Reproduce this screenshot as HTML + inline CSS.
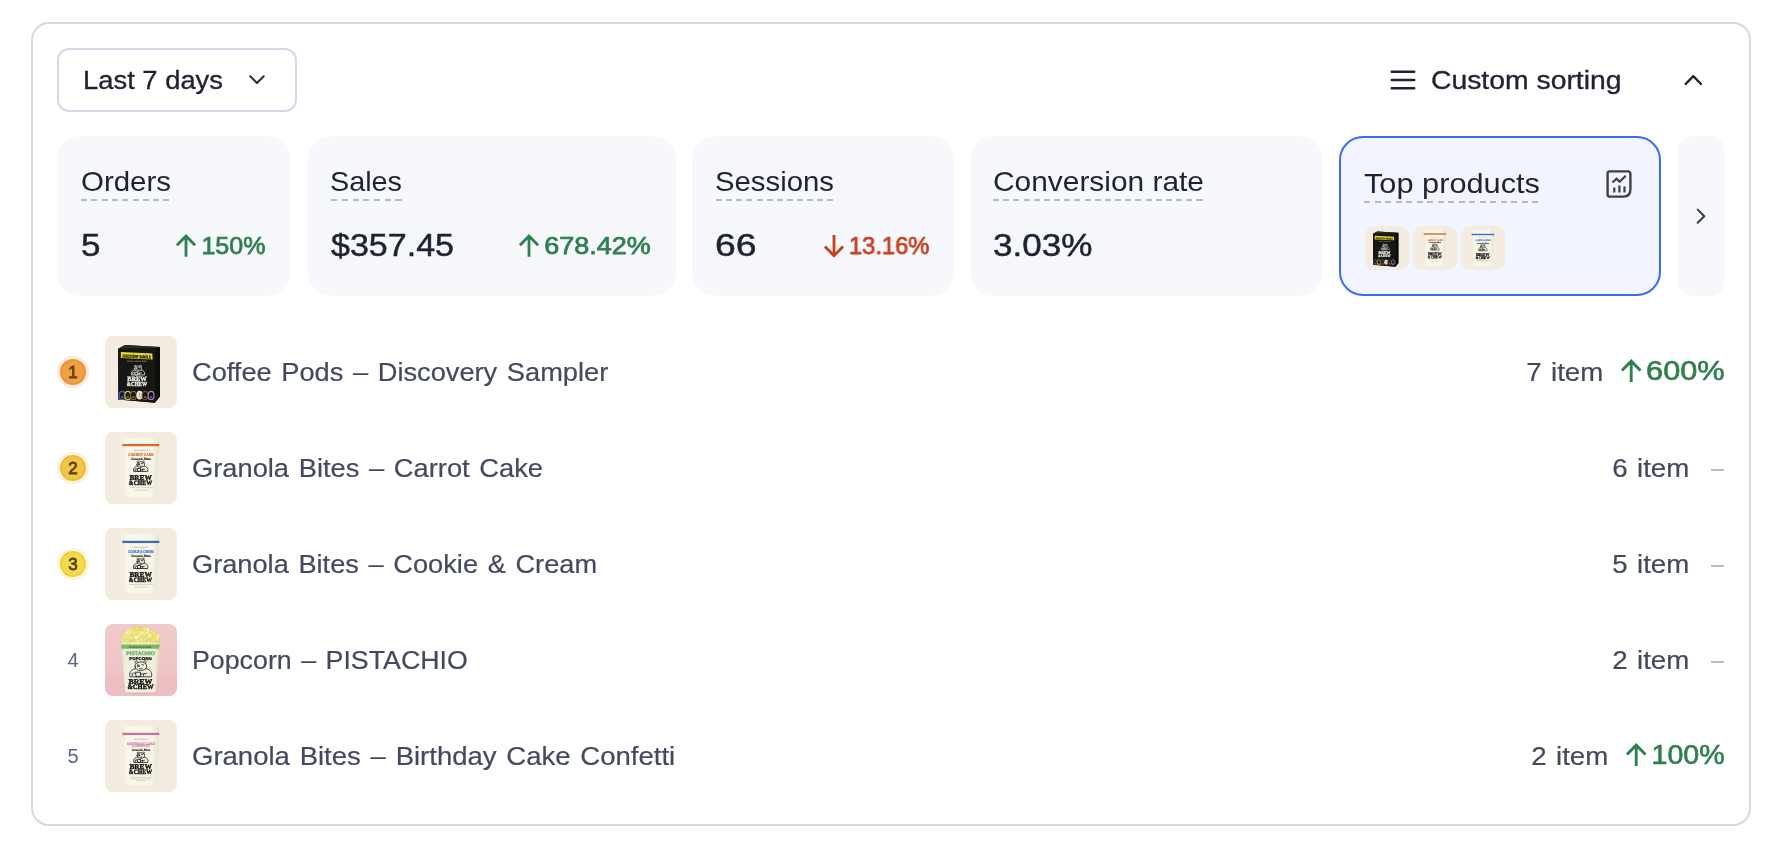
<!DOCTYPE html>
<html lang="en"><head><meta charset="utf-8"><title>Dashboard</title>
<style>*{box-sizing:border-box;margin:0;padding:0}
html,body{width:1782px;height:850px;background:#fff;overflow:hidden}
body{position:relative;font-family:"Liberation Sans",sans-serif;color:#1f2330}
.abs{position:absolute}
.t{position:absolute;line-height:1;white-space:nowrap}
.wrap{left:31px;top:22px;width:1720px;height:804px;border:2px solid #d6d8e7;border-radius:18px;background:#fff}
.btn{left:57px;top:48px;width:240px;height:64px;border:2px solid #d6d8e7;border-radius:12px;background:#fff}
.card{top:136px;height:160px;border-radius:24px;background:#f7f8fc}
.card.sel{background:#f2f5ff;border:2px solid #3a6cf0}
.dash{height:2px}
.dk{color:#1f2330}
.gr{color:#2f7f50}
.rd{color:#c4411f}
.nm{color:#434a5e;-webkit-text-stroke:0.2px currentColor}
.mut{color:#5b6687}
.b{font-weight:700}
.thumb{width:72px;height:72px;border-radius:8px;overflow:hidden;left:105px}
.sthumb{width:44px;height:44px;border-radius:9px;overflow:hidden;top:226px}
svg{display:block}
svg text{text-rendering:geometricPrecision}
.thumb,.sthumb,.t{will-change:transform}
.md4{-webkit-text-stroke:0.35px currentColor}
.md5{-webkit-text-stroke:0.5px currentColor}
.sb{-webkit-text-stroke:0.75px currentColor}
.sb2{-webkit-text-stroke:0.65px currentColor}
.bn{-webkit-text-stroke:0.8px currentColor}
</style></head>
<body>
<svg width="0" height="0" style="position:absolute"><defs><linearGradient id="pg" x1="0" x2="1" y1="0" y2="0"><stop offset="0" stop-color="#efecdc"/><stop offset="0.12" stop-color="#f9f7ea"/><stop offset="0.8" stop-color="#f7f5e7"/><stop offset="1" stop-color="#e6e2cf"/></linearGradient><linearGradient id="pk" x1="0" x2="0" y1="0" y2="1"><stop offset="0" stop-color="#f1cacb"/><stop offset="0.6" stop-color="#efc6c8"/><stop offset="0.86" stop-color="#ebbdc1"/><stop offset="1" stop-color="#ecc0c4"/></linearGradient><linearGradient id="pb" x1="0" x2="1" y1="0" y2="0"><stop offset="0" stop-color="#e3e2cc"/><stop offset="0.15" stop-color="#f0f0de"/><stop offset="0.85" stop-color="#efefdc"/><stop offset="1" stop-color="#dcdbc4"/></linearGradient></defs></svg>
<div class="abs wrap"></div>
<div class="abs btn"></div>
<div class="t dk md4" style="top:66.99px;font-size:26px;left:83.30px;transform-origin:0 50%;transform:scaleX(1.0528);">Last 7 days</div>
<svg class="abs" style="left:247px;top:72px" width="20" height="16" viewBox="0 0 20 16"><path d="M3.3 4.3 L10 11 L16.7 4.3" fill="none" stroke="#2b2f3d" stroke-width="2" stroke-linecap="round" stroke-linejoin="round"/></svg>
<svg class="abs" style="left:1390px;top:68px" width="26" height="24" viewBox="0 0 26 24"><path d="M1.8 3.8H24.2M1.8 12H24.2M1.8 20.2H24.2" fill="none" stroke="#1f2330" stroke-width="2.5" stroke-linecap="round"/></svg>
<div class="t dk md4" style="top:66.99px;font-size:26px;left:1430.50px;transform-origin:0 50%;transform:scaleX(1.0895);">Custom sorting</div>
<svg class="abs" style="left:1682px;top:71.3px" width="22" height="16" viewBox="0 0 22 16"><path d="M3.6 13 L11.3 5.2 L19 13" fill="none" stroke="#1f2330" stroke-width="2.4" stroke-linecap="round" stroke-linejoin="round"/></svg>
<div class="abs card" style="left:57px;width:234px"></div>
<div class="abs card" style="left:307px;width:369px"></div>
<div class="abs card" style="left:692px;width:262px"></div>
<div class="abs card" style="left:970px;width:353px"></div>
<div class="abs card sel" style="left:1339px;width:322px"></div>
<div class="abs card" style="left:1677px;width:48px;border-radius:16px"></div>
<div class="t dk" style="top:168.30px;font-size:28px;left:80.50px;transform-origin:0 50%;transform:scaleX(1.0517);">Orders</div>
<div class="abs dash" style="left:81.4px;top:199px;width:88.8px;background:repeating-linear-gradient(90deg,#b3b8cc 0 6px,transparent 6px 10.312px)"></div>
<div class="t dk" style="top:168.30px;font-size:28px;left:329.90px;transform-origin:0 50%;transform:scaleX(1.0279);">Sales</div>
<div class="abs dash" style="left:330.8px;top:199px;width:70.8px;background:repeating-linear-gradient(90deg,#b3b8cc 0 6px,transparent 6px 10.750px)"></div>
<div class="t dk" style="top:168.30px;font-size:28px;left:714.80px;transform-origin:0 50%;transform:scaleX(1.0473);">Sessions</div>
<div class="abs dash" style="left:715.7px;top:199px;width:117.8px;background:repeating-linear-gradient(90deg,#b3b8cc 0 6px,transparent 6px 10.136px)"></div>
<div class="t dk" style="top:168.30px;font-size:28px;left:992.50px;transform-origin:0 50%;transform:scaleX(1.0675);">Conversion rate</div>
<div class="abs dash" style="left:993.4px;top:199px;width:209.8px;background:repeating-linear-gradient(90deg,#b3b8cc 0 6px,transparent 6px 10.175px)"></div>
<div class="t dk" style="top:170.30px;font-size:28px;left:1363.50px;transform-origin:0 50%;transform:scaleX(1.0977);">Top products</div>
<div class="abs dash" style="left:1364.4px;top:201px;width:174.8px;background:repeating-linear-gradient(90deg,#b3b8cc 0 6px,transparent 6px 10.531px)"></div>
<div class="t dk md5" style="top:228.91px;font-size:32px;left:80.50px;transform-origin:0 50%;transform:scaleX(1.0957);">5</div>
<div class="t dk md5" style="top:228.91px;font-size:32px;left:330.90px;transform-origin:0 50%;transform:scaleX(1.0634);">$357.45</div>
<div class="t dk md5" style="top:228.91px;font-size:32px;left:714.80px;transform-origin:0 50%;transform:scaleX(1.1659);">66</div>
<div class="t dk md5" style="top:228.91px;font-size:32px;left:992.50px;transform-origin:0 50%;transform:scaleX(1.0966);">3.03%</div>
<div class="t gr sb" style="top:233.68px;font-size:24px;right:1516.80px;transform-origin:100% 50%;transform:scaleX(1.0425);">150%</div>
<svg class="abs" style="left:175.00px;top:234.20px" width="22.00" height="23.00" viewBox="0 0 22 23"><path d="M11 22.7V2.4M1.9 11.2L11 2.1L20.1 11.2" fill="none" stroke="#2f7f50" stroke-width="2.8" stroke-linejoin="miter"/></svg>
<div class="t gr sb" style="top:233.68px;font-size:24px;right:1131.00px;transform-origin:100% 50%;transform:scaleX(1.1240);">678.42%</div>
<svg class="abs" style="left:517.90px;top:234.20px" width="22.00" height="23.00" viewBox="0 0 22 23"><path d="M11 22.7V2.4M1.9 11.2L11 2.1L20.1 11.2" fill="none" stroke="#2f7f50" stroke-width="2.8" stroke-linejoin="miter"/></svg>
<div class="t rd sb" style="top:233.68px;font-size:24px;right:852.70px;transform-origin:100% 50%;transform:scaleX(0.9889);">13.16%</div>
<svg class="abs" style="left:823.20px;top:234.50px" width="22.00" height="23.00" viewBox="0 0 22 23"><path transform="rotate(180 11 11.4)" d="M11 22.7V2.4M1.9 11.2L11 2.1L20.1 11.2" fill="none" stroke="#c4411f" stroke-width="2.8" stroke-linejoin="miter"/></svg>
<svg class="abs" style="left:1693px;top:206px" width="16" height="20" viewBox="0 0 16 20"><path d="M4.7 3.6 L11.3 10.2 L4.7 16.8" fill="none" stroke="#353a48" stroke-width="2" stroke-linecap="round" stroke-linejoin="round"/></svg>
<svg class="abs" style="left:1605px;top:169px" width="28" height="30" viewBox="0 0 28 30"><path d="M4 2.4H22.8Q25.4 2.4 25.4 5V20.6Q25.4 27.6 18.4 27.6H4.6Q2.6 27.6 2.6 25.6V4.4Q2.6 2.4 4.6 2.4Z" fill="none" stroke="#3b4050" stroke-width="2.4"/><path d="M7.4 13.5L11.6 9.7L14.6 12.7L20.8 6.7" fill="none" stroke="#3b4050" stroke-width="2.2"/><path d="M9.3 18.6V23.4M14.4 16.6V23.4M19.5 17.6V23.4" fill="none" stroke="#3b4050" stroke-width="2.2"/></svg>
<div class="abs" style="left:57px;top:356px;width:32px;height:32px;border-radius:50%;background:#fbeadb"></div>
<div class="abs" style="left:60px;top:359px;width:26px;height:26px;border-radius:50%;background:#f0a143;border:2px solid #e8973a"></div>
<div class="t bn" style="top:363.71px;font-size:17px;left:60.00px;transform-origin:0 50%;width:26px;text-align:center;color:#6a3f12;">1</div>
<div class="abs thumb" style="top:336px"><svg width="72" height="72" viewBox="0 0 72 72"><rect width="72" height="72" fill="#f4ece0"/><path d="M13.1 12.7 L19.9 9.1 L55 11 L55 60.6 L50 66.7 L13.4 63.5 Z" fill="#0d0d0c"/><path d="M13.1 12.7 L50.7 11.9 L50 66.7 L13.4 63.5 Z" fill="#161615"/><path d="M13.1 12.7 L19.9 9.1 L55 11 L50.7 11.9 Z" fill="#2b2b28"/><path d="M15.9 15.9 L47.3 17.4 L47.7 23.4 L15.9 21.9 Z" fill="#e9d83d"/><g transform="rotate(2.7 16 16)"><text x="17.8" y="21.3" font-size="4.3" font-family="Liberation Sans,sans-serif" font-weight="700" fill="#17170f" textLength="28.2" lengthAdjust="spacingAndGlyphs" stroke="#17170f" stroke-width="0.25">DISCOVERY SAMPLE</text></g><text x="22" y="26.4" font-size="2.2" font-family="Liberation Sans,sans-serif" font-weight="700" fill="#9b9b93" textLength="19.6" lengthAdjust="spacingAndGlyphs">NATURAL &amp; ORGANIC BLEND</text><g transform="translate(32.8 34.2) scale(0.58)" fill="none" stroke="#e9e7df" stroke-width="1.38" stroke-linecap="round" stroke-linejoin="round"><path d="M-5.6 -2.6 C-6.6 -8.6 6 -9.2 6.6 -3.2 C7 0.2 3.2 1.6 0.2 1.6 C-3 1.6 -5.2 0.4 -5.6 -2.6 Z"/><path d="M-5.2 -6 C-6.6 -7.8 -4.2 -9.4 -3 -7.8M3.6 -8 C4.6 -9.8 7.2 -8.2 5.8 -6.2"/><path d="M-2.6 -4.4 L-0.6 -3.4 L-2.4 -2.2 Z M1.6 -4.6 L3.4 -4.2 M-1 -0.6 C0 0.2 1.4 0.2 2.2 -0.6"/><path d="M-5 -0.4 C-10 0.4 -12.2 4 -11 8.2 L11.6 8.2 C12.8 4 10.4 0.2 5.6 -0.4"/><path d="M-4.6 3.4 L0.2 3.4 L-0.2 8.2 L-4.2 8.2 Z M0.2 4.4 C1.8 4.4 1.8 6.6 0 6.6"/><path d="M-8.6 4.6 L-8.6 7 M-7.2 4.2 L-5.2 4.6 M2.4 5.2 L6.4 4.6 M3.4 5.4 L3.4 7.6"/></g><text x="22.2" y="45" font-size="6.6" font-family="Liberation Serif,serif" font-weight="700" fill="#efede2" textLength="19.6" lengthAdjust="spacingAndGlyphs" stroke="#efede2" stroke-width="0.35">BREW</text><text x="21.8" y="50.2" font-size="6.2" font-family="Liberation Serif,serif" font-weight="700" fill="#efede2" textLength="20.2" lengthAdjust="spacingAndGlyphs" stroke="#efede2" stroke-width="0.35">&amp;CHEW</text><ellipse cx="17.2" cy="59.4" rx="3" ry="4.1" fill="#171716" stroke="#4d63c6" stroke-width="1.15"/><path d="M16.099999999999998 61h2.2" stroke="#a5a59e" stroke-width="1"/><ellipse cx="22.8" cy="59.4" rx="3" ry="4.1" fill="#171716" stroke="#d8ca3c" stroke-width="1.15"/><path d="M21.7 61h2.2" stroke="#a5a59e" stroke-width="1"/><ellipse cx="28.4" cy="59.4" rx="3" ry="4.1" fill="#171716" stroke="#8d5e3c" stroke-width="1.15"/><path d="M27.299999999999997 61h2.2" stroke="#a5a59e" stroke-width="1"/><ellipse cx="34.6" cy="59.2" rx="3.1" ry="4.4" fill="#efe8d2"/><path d="M33.6 57.8h2M34.6 57.8v2.4M33.5 61.2h2.2" stroke="#8a836c" stroke-width="0.7"/><ellipse cx="40.2" cy="59.4" rx="3" ry="4.1" fill="#171716" stroke="#6e4c32" stroke-width="1.15"/><path d="M39.1 61h2.2" stroke="#a5a59e" stroke-width="1"/><ellipse cx="46.1" cy="59.4" rx="3" ry="4.1" fill="#171716" stroke="#b47fc6" stroke-width="1.15"/><path d="M45.0 61h2.2" stroke="#a5a59e" stroke-width="1"/></svg></div>
<div class="t nm" style="top:358.99px;font-size:26px;left:192.20px;transform-origin:0 50%;transform:scaleX(1.0465);word-spacing:2px;">Coffee Pods – Discovery Sampler</div>
<div class="t gr sb2" style="top:356.90px;font-size:28px;right:57.00px;transform-origin:100% 50%;transform:scaleX(1.0960);">600%</div>
<svg class="abs" style="left:1619.68px;top:358.70px" width="22.44" height="23.46" viewBox="0 0 22 23"><path d="M11 22.7V2.4M1.9 11.2L11 2.1L20.1 11.2" fill="none" stroke="#2f7f50" stroke-width="2.8" stroke-linejoin="miter"/></svg>
<div class="t nm" style="top:358.99px;font-size:26px;right:178.70px;transform-origin:100% 50%;transform:scaleX(1.0648);word-spacing:1.5px;">7 item</div>
<div class="abs" style="left:57px;top:452px;width:32px;height:32px;border-radius:50%;background:#fcf2d9"></div>
<div class="abs" style="left:60px;top:455px;width:26px;height:26px;border-radius:50%;background:#f3c546;border:2px solid #ebbb3d"></div>
<div class="t bn" style="top:459.71px;font-size:17px;left:60.00px;transform-origin:0 50%;width:26px;text-align:center;color:#5a4315;">2</div>
<div class="abs thumb" style="top:432px"><svg width="72" height="72" viewBox="0 0 72 72"><rect width="72" height="72" fill="#f4ece0"/><path d="M18 6.4 Q36 5.2 53.8 6.4 L54.2 14 Q53.2 40 51.4 62.8 Q51.2 65.4 48.6 65.4 L24 65.4 Q21.4 65.4 21.2 62.8 Q19 40 17.5 14 Z" fill="url(#pg)"/><rect x="17.4" y="12.00" width="36.9" height="2.2" fill="#d8601f"/><path d="M19 13.10h33.6" stroke="#fff" stroke-opacity="0.3" stroke-width="0.5" stroke-dasharray="1.6 0.8"/><text x="29" y="19.0" font-size="1.9" font-family="Liberation Sans,sans-serif" font-weight="700" fill="#a3a093" textLength="14.0" lengthAdjust="spacingAndGlyphs">SMALL BATCH CO.</text><text x="23.3" y="24.2" font-size="4.4" font-family="Liberation Serif,serif" font-weight="700" fill="#dd6a2a" textLength="25.3" lengthAdjust="spacingAndGlyphs" stroke="#dd6a2a" stroke-width="0.22">CARROT CAKE</text><text x="26.3" y="27.8" font-size="3.3" font-family="Liberation Serif,serif" font-weight="700" fill="#22211d" textLength="19.4" lengthAdjust="spacingAndGlyphs" stroke="#22211d" stroke-width="0.15">Granola Bites</text><g transform="translate(35.5 34.3) scale(0.62)" fill="none" stroke="#1d1c19" stroke-width="1.37" stroke-linecap="round" stroke-linejoin="round"><path d="M-5.6 -2.6 C-6.6 -8.6 6 -9.2 6.6 -3.2 C7 0.2 3.2 1.6 0.2 1.6 C-3 1.6 -5.2 0.4 -5.6 -2.6 Z"/><path d="M-5.2 -6 C-6.6 -7.8 -4.2 -9.4 -3 -7.8M3.6 -8 C4.6 -9.8 7.2 -8.2 5.8 -6.2"/><path d="M-2.6 -4.4 L-0.6 -3.4 L-2.4 -2.2 Z M1.6 -4.6 L3.4 -4.2 M-1 -0.6 C0 0.2 1.4 0.2 2.2 -0.6"/><path d="M-5 -0.4 C-10 0.4 -12.2 4 -11 8.2 L11.6 8.2 C12.8 4 10.4 0.2 5.6 -0.4"/><path d="M-4.6 3.4 L0.2 3.4 L-0.2 8.2 L-4.2 8.2 Z M0.2 4.4 C1.8 4.4 1.8 6.6 0 6.6"/><path d="M-8.6 4.6 L-8.6 7 M-7.2 4.2 L-5.2 4.6 M2.4 5.2 L6.4 4.6 M3.4 5.4 L3.4 7.6"/></g><text x="24.4" y="47.7" font-size="7.2" font-family="Liberation Serif,serif" font-weight="700" fill="#161513" textLength="22.4" lengthAdjust="spacingAndGlyphs" stroke="#161513" stroke-width="0.4">BREW</text><text x="23.8" y="52.6" font-size="6.4" font-family="Liberation Serif,serif" font-weight="700" fill="#161513" textLength="23.2" lengthAdjust="spacingAndGlyphs" stroke="#161513" stroke-width="0.4">&amp;CHEW</text><path d="M24 55.6h24M29 58.2h14" stroke="#8d8a7e" stroke-opacity="0.7" stroke-width="0.45"/></svg></div>
<div class="t nm" style="top:454.99px;font-size:26px;left:192.20px;transform-origin:0 50%;transform:scaleX(1.0490);word-spacing:2px;">Granola Bites – Carrot Cake</div>
<div class="abs" style="left:1710.5px;top:469px;width:13.5px;height:2px;background:#b7bcd0"></div>
<div class="t nm" style="top:454.99px;font-size:26px;right:92.50px;transform-origin:100% 50%;transform:scaleX(1.0648);word-spacing:1.5px;">6 item</div>
<div class="abs" style="left:57px;top:548px;width:32px;height:32px;border-radius:50%;background:#fcf6d8"></div>
<div class="abs" style="left:60px;top:551px;width:26px;height:26px;border-radius:50%;background:#f5db4b;border:2px solid #edd040"></div>
<div class="t bn" style="top:555.71px;font-size:17px;left:60.00px;transform-origin:0 50%;width:26px;text-align:center;color:#4f4518;">3</div>
<div class="abs thumb" style="top:528px"><svg width="72" height="72" viewBox="0 0 72 72"><rect width="72" height="72" fill="#f4ece0"/><path d="M18 6.4 Q36 5.2 53.8 6.4 L54.2 14 Q53.2 40 51.4 62.8 Q51.2 65.4 48.6 65.4 L24 65.4 Q21.4 65.4 21.2 62.8 Q19 40 17.5 14 Z" fill="url(#pg)"/><rect x="17.4" y="12.81" width="36.9" height="2.2" fill="#2f62c6"/><path d="M19 13.91h33.6" stroke="#fff" stroke-opacity="0.3" stroke-width="0.5" stroke-dasharray="1.6 0.8"/><text x="29" y="19.9" font-size="1.9" font-family="Liberation Sans,sans-serif" font-weight="700" fill="#a3a093" textLength="14.0" lengthAdjust="spacingAndGlyphs">SMALL BATCH CO.</text><text x="23.3" y="25.099999999999998" font-size="4.4" font-family="Liberation Serif,serif" font-weight="700" fill="#3f73d6" textLength="25.3" lengthAdjust="spacingAndGlyphs" stroke="#3f73d6" stroke-width="0.22">COOKIE &amp; CREAM</text><text x="26.3" y="28.7" font-size="3.3" font-family="Liberation Serif,serif" font-weight="700" fill="#22211d" textLength="19.4" lengthAdjust="spacingAndGlyphs" stroke="#22211d" stroke-width="0.15">Granola Bites</text><g transform="translate(35.5 35.379999999999995) scale(0.62)" fill="none" stroke="#1d1c19" stroke-width="1.37" stroke-linecap="round" stroke-linejoin="round"><path d="M-5.6 -2.6 C-6.6 -8.6 6 -9.2 6.6 -3.2 C7 0.2 3.2 1.6 0.2 1.6 C-3 1.6 -5.2 0.4 -5.6 -2.6 Z"/><path d="M-5.2 -6 C-6.6 -7.8 -4.2 -9.4 -3 -7.8M3.6 -8 C4.6 -9.8 7.2 -8.2 5.8 -6.2"/><path d="M-2.6 -4.4 L-0.6 -3.4 L-2.4 -2.2 Z M1.6 -4.6 L3.4 -4.2 M-1 -0.6 C0 0.2 1.4 0.2 2.2 -0.6"/><path d="M-5 -0.4 C-10 0.4 -12.2 4 -11 8.2 L11.6 8.2 C12.8 4 10.4 0.2 5.6 -0.4"/><path d="M-4.6 3.4 L0.2 3.4 L-0.2 8.2 L-4.2 8.2 Z M0.2 4.4 C1.8 4.4 1.8 6.6 0 6.6"/><path d="M-8.6 4.6 L-8.6 7 M-7.2 4.2 L-5.2 4.6 M2.4 5.2 L6.4 4.6 M3.4 5.4 L3.4 7.6"/></g><text x="24.4" y="48.690000000000005" font-size="7.2" font-family="Liberation Serif,serif" font-weight="700" fill="#161513" textLength="22.4" lengthAdjust="spacingAndGlyphs" stroke="#161513" stroke-width="0.4">BREW</text><text x="23.8" y="53.68" font-size="6.4" font-family="Liberation Serif,serif" font-weight="700" fill="#161513" textLength="23.2" lengthAdjust="spacingAndGlyphs" stroke="#161513" stroke-width="0.4">&amp;CHEW</text><path d="M24 56.5h24M29 59.1h14" stroke="#8d8a7e" stroke-opacity="0.7" stroke-width="0.45"/></svg></div>
<div class="t nm" style="top:550.99px;font-size:26px;left:192.20px;transform-origin:0 50%;transform:scaleX(1.0463);word-spacing:2px;">Granola Bites – Cookie &amp; Cream</div>
<div class="abs" style="left:1710.5px;top:565px;width:13.5px;height:2px;background:#b7bcd0"></div>
<div class="t nm" style="top:550.99px;font-size:26px;right:92.50px;transform-origin:100% 50%;transform:scaleX(1.0648);word-spacing:1.5px;">5 item</div>
<div class="t mut" style="top:650.07px;font-size:20px;left:60.00px;transform-origin:0 50%;width:26px;text-align:center;">4</div>
<div class="abs thumb" style="top:624px"><svg width="72" height="72" viewBox="0 0 72 72"><rect width="72" height="72" fill="url(#pk)"/><ellipse cx="36" cy="68.8" rx="17" ry="1.6" fill="#d9a4aa" opacity="0.45"/><path d="M19 19.5 C19 11 28 5.6 36 5.8 C44 5.6 52.4 11 52.4 19.5 Z" fill="#e6da6a"/><circle cx="51.9" cy="19.5" r="2.8" fill="#efe476" stroke="#cdbd4c" stroke-opacity="0.6" stroke-width="0.4"/><circle cx="22.3" cy="19.4" r="2.3" fill="#f6f09a" stroke="#cdbd4c" stroke-opacity="0.6" stroke-width="0.4"/><circle cx="51.4" cy="19.2" r="2.0" fill="#efe476" stroke="#cdbd4c" stroke-opacity="0.6" stroke-width="0.4"/><circle cx="20.3" cy="19.2" r="2.1" fill="#f6f09a" stroke="#cdbd4c" stroke-opacity="0.6" stroke-width="0.4"/><circle cx="25.5" cy="18.9" r="2.7" fill="#f9f5b4" stroke="#cdbd4c" stroke-opacity="0.6" stroke-width="0.4"/><circle cx="43.4" cy="18.8" r="2.1" fill="#f6f09a" stroke="#cdbd4c" stroke-opacity="0.6" stroke-width="0.4"/><circle cx="50.6" cy="18.2" r="2.1" fill="#f4ed8c" stroke="#cdbd4c" stroke-opacity="0.6" stroke-width="0.4"/><circle cx="29.0" cy="18.1" r="2.3" fill="#f6f09a" stroke="#cdbd4c" stroke-opacity="0.6" stroke-width="0.4"/><circle cx="51.0" cy="17.9" r="2.8" fill="#efe476" stroke="#cdbd4c" stroke-opacity="0.6" stroke-width="0.4"/><circle cx="49.0" cy="17.8" r="2.7" fill="#f1e87e" stroke="#cdbd4c" stroke-opacity="0.6" stroke-width="0.4"/><circle cx="38.0" cy="17.7" r="2.7" fill="#f9f5b4" stroke="#cdbd4c" stroke-opacity="0.6" stroke-width="0.4"/><circle cx="22.0" cy="17.7" r="2.3" fill="#efe476" stroke="#cdbd4c" stroke-opacity="0.6" stroke-width="0.4"/><circle cx="37.5" cy="17.5" r="2.4" fill="#f6f09a" stroke="#cdbd4c" stroke-opacity="0.6" stroke-width="0.4"/><circle cx="50.8" cy="17.4" r="2.8" fill="#ebe06c" stroke="#cdbd4c" stroke-opacity="0.6" stroke-width="0.4"/><circle cx="33.5" cy="17.4" r="2.8" fill="#f6f09a" stroke="#cdbd4c" stroke-opacity="0.6" stroke-width="0.4"/><circle cx="27.5" cy="17.4" r="2.8" fill="#f4ed8c" stroke="#cdbd4c" stroke-opacity="0.6" stroke-width="0.4"/><circle cx="39.8" cy="16.8" r="2.0" fill="#efe476" stroke="#cdbd4c" stroke-opacity="0.6" stroke-width="0.4"/><circle cx="25.3" cy="16.5" r="2.3" fill="#f4ed8c" stroke="#cdbd4c" stroke-opacity="0.6" stroke-width="0.4"/><circle cx="24.8" cy="16.4" r="2.0" fill="#f6f09a" stroke="#cdbd4c" stroke-opacity="0.6" stroke-width="0.4"/><circle cx="46.7" cy="16.4" r="2.1" fill="#efe476" stroke="#cdbd4c" stroke-opacity="0.6" stroke-width="0.4"/><circle cx="21.4" cy="16.1" r="2.1" fill="#f9f5b4" stroke="#cdbd4c" stroke-opacity="0.6" stroke-width="0.4"/><circle cx="26.9" cy="16.0" r="2.8" fill="#efe476" stroke="#cdbd4c" stroke-opacity="0.6" stroke-width="0.4"/><circle cx="23.3" cy="15.8" r="2.3" fill="#efe476" stroke="#cdbd4c" stroke-opacity="0.6" stroke-width="0.4"/><circle cx="47.2" cy="15.7" r="2.6" fill="#ebe06c" stroke="#cdbd4c" stroke-opacity="0.6" stroke-width="0.4"/><circle cx="18.7" cy="15.6" r="2.4" fill="#fbf8c6" stroke="#cdbd4c" stroke-opacity="0.6" stroke-width="0.4"/><circle cx="48.1" cy="15.5" r="2.5" fill="#f4ed8c" stroke="#cdbd4c" stroke-opacity="0.6" stroke-width="0.4"/><circle cx="22.0" cy="15.5" r="2.7" fill="#f6f09a" stroke="#cdbd4c" stroke-opacity="0.6" stroke-width="0.4"/><circle cx="50.7" cy="15.1" r="2.3" fill="#f6f09a" stroke="#cdbd4c" stroke-opacity="0.6" stroke-width="0.4"/><circle cx="52.5" cy="15.0" r="2.4" fill="#f1e87e" stroke="#cdbd4c" stroke-opacity="0.6" stroke-width="0.4"/><circle cx="35.5" cy="15.0" r="2.9" fill="#f6f09a" stroke="#cdbd4c" stroke-opacity="0.6" stroke-width="0.4"/><circle cx="20.0" cy="15.0" r="2.4" fill="#f4ed8c" stroke="#cdbd4c" stroke-opacity="0.6" stroke-width="0.4"/><circle cx="27.0" cy="14.8" r="2.6" fill="#ebe06c" stroke="#cdbd4c" stroke-opacity="0.6" stroke-width="0.4"/><circle cx="36.1" cy="14.7" r="2.2" fill="#f6f09a" stroke="#cdbd4c" stroke-opacity="0.6" stroke-width="0.4"/><circle cx="40.6" cy="14.6" r="2.3" fill="#f1e87e" stroke="#cdbd4c" stroke-opacity="0.6" stroke-width="0.4"/><circle cx="51.4" cy="14.6" r="2.6" fill="#f1e87e" stroke="#cdbd4c" stroke-opacity="0.6" stroke-width="0.4"/><circle cx="49.5" cy="14.5" r="2.5" fill="#fbf8c6" stroke="#cdbd4c" stroke-opacity="0.6" stroke-width="0.4"/><circle cx="49.0" cy="14.4" r="2.8" fill="#efe476" stroke="#cdbd4c" stroke-opacity="0.6" stroke-width="0.4"/><circle cx="25.1" cy="14.1" r="2.8" fill="#ebe06c" stroke="#cdbd4c" stroke-opacity="0.6" stroke-width="0.4"/><circle cx="35.8" cy="14.0" r="2.8" fill="#f9f5b4" stroke="#cdbd4c" stroke-opacity="0.6" stroke-width="0.4"/><circle cx="22.8" cy="13.7" r="2.4" fill="#f9f5b4" stroke="#cdbd4c" stroke-opacity="0.6" stroke-width="0.4"/><circle cx="33.9" cy="13.7" r="2.2" fill="#ebe06c" stroke="#cdbd4c" stroke-opacity="0.6" stroke-width="0.4"/><circle cx="19.5" cy="13.6" r="2.7" fill="#fbf8c6" stroke="#cdbd4c" stroke-opacity="0.6" stroke-width="0.4"/><circle cx="19.0" cy="13.4" r="2.8" fill="#f1e87e" stroke="#cdbd4c" stroke-opacity="0.6" stroke-width="0.4"/><circle cx="21.9" cy="13.2" r="2.3" fill="#f4ed8c" stroke="#cdbd4c" stroke-opacity="0.6" stroke-width="0.4"/><circle cx="46.9" cy="13.0" r="2.8" fill="#f1e87e" stroke="#cdbd4c" stroke-opacity="0.6" stroke-width="0.4"/><circle cx="22.1" cy="12.8" r="2.1" fill="#ebe06c" stroke="#cdbd4c" stroke-opacity="0.6" stroke-width="0.4"/><circle cx="26.0" cy="12.6" r="2.3" fill="#fbf8c6" stroke="#cdbd4c" stroke-opacity="0.6" stroke-width="0.4"/><circle cx="19.5" cy="12.6" r="2.0" fill="#f6f09a" stroke="#cdbd4c" stroke-opacity="0.6" stroke-width="0.4"/><circle cx="51.7" cy="12.5" r="2.9" fill="#f9f5b4" stroke="#cdbd4c" stroke-opacity="0.6" stroke-width="0.4"/><circle cx="44.3" cy="12.5" r="2.7" fill="#f6f09a" stroke="#cdbd4c" stroke-opacity="0.6" stroke-width="0.4"/><circle cx="21.3" cy="12.4" r="2.4" fill="#f9f5b4" stroke="#cdbd4c" stroke-opacity="0.6" stroke-width="0.4"/><circle cx="31.3" cy="12.4" r="2.8" fill="#fbf8c6" stroke="#cdbd4c" stroke-opacity="0.6" stroke-width="0.4"/><circle cx="37.5" cy="12.2" r="2.4" fill="#efe476" stroke="#cdbd4c" stroke-opacity="0.6" stroke-width="0.4"/><circle cx="49.3" cy="12.0" r="2.5" fill="#efe476" stroke="#cdbd4c" stroke-opacity="0.6" stroke-width="0.4"/><circle cx="22.9" cy="11.9" r="2.3" fill="#fbf8c6" stroke="#cdbd4c" stroke-opacity="0.6" stroke-width="0.4"/><circle cx="44.5" cy="11.7" r="2.8" fill="#f4ed8c" stroke="#cdbd4c" stroke-opacity="0.6" stroke-width="0.4"/><circle cx="26.0" cy="11.1" r="2.4" fill="#f6f09a" stroke="#cdbd4c" stroke-opacity="0.6" stroke-width="0.4"/><circle cx="44.7" cy="11.0" r="2.7" fill="#f9f5b4" stroke="#cdbd4c" stroke-opacity="0.6" stroke-width="0.4"/><circle cx="25.3" cy="11.0" r="2.8" fill="#f6f09a" stroke="#cdbd4c" stroke-opacity="0.6" stroke-width="0.4"/><circle cx="26.0" cy="11.0" r="2.6" fill="#f9f5b4" stroke="#cdbd4c" stroke-opacity="0.6" stroke-width="0.4"/><circle cx="21.0" cy="10.3" r="2.5" fill="#f9f5b4" stroke="#cdbd4c" stroke-opacity="0.6" stroke-width="0.4"/><circle cx="22.3" cy="10.3" r="2.6" fill="#f4ed8c" stroke="#cdbd4c" stroke-opacity="0.6" stroke-width="0.4"/><circle cx="50.2" cy="10.3" r="2.0" fill="#f1e87e" stroke="#cdbd4c" stroke-opacity="0.6" stroke-width="0.4"/><circle cx="38.7" cy="10.2" r="2.4" fill="#f1e87e" stroke="#cdbd4c" stroke-opacity="0.6" stroke-width="0.4"/><circle cx="45.3" cy="10.2" r="2.0" fill="#fbf8c6" stroke="#cdbd4c" stroke-opacity="0.6" stroke-width="0.4"/><circle cx="25.0" cy="10.1" r="2.2" fill="#fbf8c6" stroke="#cdbd4c" stroke-opacity="0.6" stroke-width="0.4"/><circle cx="39.3" cy="10.1" r="2.1" fill="#f6f09a" stroke="#cdbd4c" stroke-opacity="0.6" stroke-width="0.4"/><circle cx="34.1" cy="9.9" r="2.9" fill="#f6f09a" stroke="#cdbd4c" stroke-opacity="0.6" stroke-width="0.4"/><circle cx="27.2" cy="9.9" r="2.4" fill="#efe476" stroke="#cdbd4c" stroke-opacity="0.6" stroke-width="0.4"/><circle cx="29.4" cy="9.8" r="2.5" fill="#efe476" stroke="#cdbd4c" stroke-opacity="0.6" stroke-width="0.4"/><circle cx="24.2" cy="9.0" r="2.7" fill="#f6f09a" stroke="#cdbd4c" stroke-opacity="0.6" stroke-width="0.4"/><circle cx="48.1" cy="8.8" r="2.6" fill="#f1e87e" stroke="#cdbd4c" stroke-opacity="0.6" stroke-width="0.4"/><circle cx="23.1" cy="8.5" r="2.7" fill="#f9f5b4" stroke="#cdbd4c" stroke-opacity="0.6" stroke-width="0.4"/><circle cx="28.5" cy="8.1" r="2.2" fill="#f6f09a" stroke="#cdbd4c" stroke-opacity="0.6" stroke-width="0.4"/><circle cx="28.8" cy="8.0" r="2.7" fill="#f4ed8c" stroke="#cdbd4c" stroke-opacity="0.6" stroke-width="0.4"/><circle cx="32.9" cy="7.7" r="2.6" fill="#f1e87e" stroke="#cdbd4c" stroke-opacity="0.6" stroke-width="0.4"/><circle cx="41.9" cy="7.6" r="2.2" fill="#fbf8c6" stroke="#cdbd4c" stroke-opacity="0.6" stroke-width="0.4"/><circle cx="45.5" cy="7.2" r="2.3" fill="#efe476" stroke="#cdbd4c" stroke-opacity="0.6" stroke-width="0.4"/><circle cx="25.7" cy="7.0" r="2.9" fill="#f4ed8c" stroke="#cdbd4c" stroke-opacity="0.6" stroke-width="0.4"/><circle cx="36.4" cy="7.0" r="2.6" fill="#fbf8c6" stroke="#cdbd4c" stroke-opacity="0.6" stroke-width="0.4"/><circle cx="42.4" cy="5.8" r="2.1" fill="#fbf8c6" stroke="#cdbd4c" stroke-opacity="0.6" stroke-width="0.4"/><circle cx="39.1" cy="5.4" r="2.7" fill="#f1e87e" stroke="#cdbd4c" stroke-opacity="0.6" stroke-width="0.4"/><circle cx="28.8" cy="5.2" r="2.1" fill="#efe476" stroke="#cdbd4c" stroke-opacity="0.6" stroke-width="0.4"/><circle cx="35.6" cy="5.1" r="2.3" fill="#ebe06c" stroke="#cdbd4c" stroke-opacity="0.6" stroke-width="0.4"/><circle cx="32.1" cy="4.7" r="2.4" fill="#efe476" stroke="#cdbd4c" stroke-opacity="0.6" stroke-width="0.4"/><path d="M16 19.6 L17.6 18.1 L19.2 19.6 L20.8 18.1 L22.4 19.6 L24.1 18.1 L25.7 19.6 L27.3 18.1 L28.9 19.6 L30.5 18.1 L32.1 19.6 L33.7 18.1 L35.4 19.6 L37.0 18.1 L38.6 19.6 L40.2 18.1 L41.8 19.6 L43.4 18.1 L45.0 19.6 L46.6 18.1 L48.2 19.6 L49.9 18.1 L51.5 19.6 L53.1 18.1 L54.7 19.6 L54.7 19.6 L50.6 68.5 L20.3 68.5 Z" fill="url(#pb)"/><path d="M16.1 20.6 L54.6 20.6 L54.25 24.8 L16.45 24.8 Z" fill="#7dba5c"/><text x="24" y="23.8" font-size="2.7" font-family="Liberation Sans,sans-serif" font-weight="700" fill="#25501f" textLength="22.6" lengthAdjust="spacingAndGlyphs">NO NUTS. REALLY. NONE.</text><text x="21.2" y="31.4" font-size="5.2" font-family="Liberation Sans,sans-serif" font-weight="700" fill="#67b062" textLength="28.6" lengthAdjust="spacingAndGlyphs" stroke="#67b062" stroke-width="0.3">PISTACHIO</text><text x="24.2" y="35.8" font-size="4" font-family="Liberation Sans,sans-serif" font-weight="700" fill="#181715" textLength="22.6" lengthAdjust="spacingAndGlyphs" stroke="#181715" stroke-width="0.25">POPCORN</text><g transform="translate(35.4 45) scale(0.95)" fill="none" stroke="#1b1a17" stroke-width="0.84" stroke-linecap="round" stroke-linejoin="round"><path d="M-5.6 -2.6 C-6.6 -8.6 6 -9.2 6.6 -3.2 C7 0.2 3.2 1.6 0.2 1.6 C-3 1.6 -5.2 0.4 -5.6 -2.6 Z"/><path d="M-5.2 -6 C-6.6 -7.8 -4.2 -9.4 -3 -7.8M3.6 -8 C4.6 -9.8 7.2 -8.2 5.8 -6.2"/><path d="M-2.6 -4.4 L-0.6 -3.4 L-2.4 -2.2 Z M1.6 -4.6 L3.4 -4.2 M-1 -0.6 C0 0.2 1.4 0.2 2.2 -0.6"/><path d="M-5 -0.4 C-10 0.4 -12.2 4 -11 8.2 L11.6 8.2 C12.8 4 10.4 0.2 5.6 -0.4"/><path d="M-4.6 3.4 L0.2 3.4 L-0.2 8.2 L-4.2 8.2 Z M0.2 4.4 C1.8 4.4 1.8 6.6 0 6.6"/><path d="M-8.6 4.6 L-8.6 7 M-7.2 4.2 L-5.2 4.6 M2.4 5.2 L6.4 4.6 M3.4 5.4 L3.4 7.6"/></g><text x="23.6" y="59.6" font-size="7.2" font-family="Liberation Serif,serif" font-weight="700" fill="#161513" textLength="23.5" lengthAdjust="spacingAndGlyphs" stroke="#161513" stroke-width="0.4">BREW</text><text x="22.4" y="65.2" font-size="6.8" font-family="Liberation Serif,serif" font-weight="700" fill="#161513" textLength="26.2" lengthAdjust="spacingAndGlyphs" stroke="#161513" stroke-width="0.4">&amp;CHEW</text></svg></div>
<div class="t nm" style="top:646.99px;font-size:26px;left:192.20px;transform-origin:0 50%;transform:scaleX(1.0293);word-spacing:2px;">Popcorn – PISTACHIO</div>
<div class="abs" style="left:1710.5px;top:661px;width:13.5px;height:2px;background:#b7bcd0"></div>
<div class="t nm" style="top:646.99px;font-size:26px;right:92.50px;transform-origin:100% 50%;transform:scaleX(1.0648);word-spacing:1.5px;">2 item</div>
<div class="t mut" style="top:746.07px;font-size:20px;left:60.00px;transform-origin:0 50%;width:26px;text-align:center;">5</div>
<div class="abs thumb" style="top:720px"><svg width="72" height="72" viewBox="0 0 72 72"><rect width="72" height="72" fill="#f4ece0"/><path d="M18 6.4 Q36 5.2 53.8 6.4 L54.2 14 Q53.2 40 51.4 62.8 Q51.2 65.4 48.6 65.4 L24 65.4 Q21.4 65.4 21.2 62.8 Q19 40 17.5 14 Z" fill="url(#pg)"/><rect x="17.4" y="12.81" width="36.9" height="2.2" fill="#c8689c"/><path d="M19 13.91h33.6" stroke="#fff" stroke-opacity="0.3" stroke-width="0.5" stroke-dasharray="1.6 0.8"/><text x="29" y="19.9" font-size="1.9" font-family="Liberation Sans,sans-serif" font-weight="700" fill="#a3a093" textLength="14.0" lengthAdjust="spacingAndGlyphs">SMALL BATCH CO.</text><text x="21.9" y="24.5" font-size="3.6" font-family="Liberation Serif,serif" font-weight="700" fill="#d685ae" textLength="28.1" lengthAdjust="spacingAndGlyphs" stroke="#d685ae" stroke-width="0.22">BIRTHDAY CAKE</text><text x="26.8" y="27.4" font-size="3.6" font-family="Liberation Serif,serif" font-weight="700" fill="#d685ae" textLength="17.9" lengthAdjust="spacingAndGlyphs" stroke="#d685ae" stroke-width="0.22">CONFETTI</text><text x="26.8" y="31.4" font-size="3.2" font-family="Liberation Serif,serif" font-weight="700" fill="#22211d" textLength="18.4" lengthAdjust="spacingAndGlyphs" stroke="#22211d" stroke-width="0.15">Granola Bites</text><g transform="translate(35.6 37.3) scale(0.62)" fill="none" stroke="#1d1c19" stroke-width="1.37" stroke-linecap="round" stroke-linejoin="round"><path d="M-5.6 -2.6 C-6.6 -8.6 6 -9.2 6.6 -3.2 C7 0.2 3.2 1.6 0.2 1.6 C-3 1.6 -5.2 0.4 -5.6 -2.6 Z"/><path d="M-5.2 -6 C-6.6 -7.8 -4.2 -9.4 -3 -7.8M3.6 -8 C4.6 -9.8 7.2 -8.2 5.8 -6.2"/><path d="M-2.6 -4.4 L-0.6 -3.4 L-2.4 -2.2 Z M1.6 -4.6 L3.4 -4.2 M-1 -0.6 C0 0.2 1.4 0.2 2.2 -0.6"/><path d="M-5 -0.4 C-10 0.4 -12.2 4 -11 8.2 L11.6 8.2 C12.8 4 10.4 0.2 5.6 -0.4"/><path d="M-4.6 3.4 L0.2 3.4 L-0.2 8.2 L-4.2 8.2 Z M0.2 4.4 C1.8 4.4 1.8 6.6 0 6.6"/><path d="M-8.6 4.6 L-8.6 7 M-7.2 4.2 L-5.2 4.6 M2.4 5.2 L6.4 4.6 M3.4 5.4 L3.4 7.6"/></g><text x="24.4" y="49.1" font-size="7.2" font-family="Liberation Serif,serif" font-weight="700" fill="#161513" textLength="22.4" lengthAdjust="spacingAndGlyphs" stroke="#161513" stroke-width="0.4">BREW</text><text x="23.8" y="54.4" font-size="6.6" font-family="Liberation Serif,serif" font-weight="700" fill="#161513" textLength="23.2" lengthAdjust="spacingAndGlyphs" stroke="#161513" stroke-width="0.4">&amp;CHEW</text><path d="M24.6 57.3h23M26 58.9h20M31.6 60.5h9" stroke="#8d8a7e" stroke-opacity="0.7" stroke-width="0.45"/></svg></div>
<div class="t nm" style="top:742.99px;font-size:26px;left:192.20px;transform-origin:0 50%;transform:scaleX(1.0583);word-spacing:2px;">Granola Bites – Birthday Cake Confetti</div>
<div class="t gr sb2" style="top:740.90px;font-size:28px;right:57.00px;transform-origin:100% 50%;transform:scaleX(1.0192);">100%</div>
<svg class="abs" style="left:1625.08px;top:742.70px" width="22.44" height="23.46" viewBox="0 0 22 23"><path d="M11 22.7V2.4M1.9 11.2L11 2.1L20.1 11.2" fill="none" stroke="#2f7f50" stroke-width="2.8" stroke-linejoin="miter"/></svg>
<div class="t nm" style="top:742.99px;font-size:26px;right:173.70px;transform-origin:100% 50%;transform:scaleX(1.0648);word-spacing:1.5px;">2 item</div>
<div class="abs sthumb" style="left:1365px"><svg width="44" height="44" viewBox="0 0 72 72"><rect width="72" height="72" fill="#f4ece0"/><path d="M13.1 12.7 L19.9 9.1 L55 11 L55 60.6 L50 66.7 L13.4 63.5 Z" fill="#0d0d0c"/><path d="M13.1 12.7 L50.7 11.9 L50 66.7 L13.4 63.5 Z" fill="#161615"/><path d="M13.1 12.7 L19.9 9.1 L55 11 L50.7 11.9 Z" fill="#2b2b28"/><path d="M15.9 15.9 L47.3 17.4 L47.7 23.4 L15.9 21.9 Z" fill="#e9d83d"/><g transform="rotate(2.7 16 16)"><text x="17.8" y="21.3" font-size="4.3" font-family="Liberation Sans,sans-serif" font-weight="700" fill="#17170f" textLength="28.2" lengthAdjust="spacingAndGlyphs" stroke="#17170f" stroke-width="0.25">DISCOVERY SAMPLE</text></g><text x="22" y="26.4" font-size="2.2" font-family="Liberation Sans,sans-serif" font-weight="700" fill="#9b9b93" textLength="19.6" lengthAdjust="spacingAndGlyphs">NATURAL &amp; ORGANIC BLEND</text><g transform="translate(32.8 34.2) scale(0.58)" fill="none" stroke="#e9e7df" stroke-width="1.38" stroke-linecap="round" stroke-linejoin="round"><path d="M-5.6 -2.6 C-6.6 -8.6 6 -9.2 6.6 -3.2 C7 0.2 3.2 1.6 0.2 1.6 C-3 1.6 -5.2 0.4 -5.6 -2.6 Z"/><path d="M-5.2 -6 C-6.6 -7.8 -4.2 -9.4 -3 -7.8M3.6 -8 C4.6 -9.8 7.2 -8.2 5.8 -6.2"/><path d="M-2.6 -4.4 L-0.6 -3.4 L-2.4 -2.2 Z M1.6 -4.6 L3.4 -4.2 M-1 -0.6 C0 0.2 1.4 0.2 2.2 -0.6"/><path d="M-5 -0.4 C-10 0.4 -12.2 4 -11 8.2 L11.6 8.2 C12.8 4 10.4 0.2 5.6 -0.4"/><path d="M-4.6 3.4 L0.2 3.4 L-0.2 8.2 L-4.2 8.2 Z M0.2 4.4 C1.8 4.4 1.8 6.6 0 6.6"/><path d="M-8.6 4.6 L-8.6 7 M-7.2 4.2 L-5.2 4.6 M2.4 5.2 L6.4 4.6 M3.4 5.4 L3.4 7.6"/></g><text x="22.2" y="45" font-size="6.6" font-family="Liberation Serif,serif" font-weight="700" fill="#efede2" textLength="19.6" lengthAdjust="spacingAndGlyphs" stroke="#efede2" stroke-width="0.35">BREW</text><text x="21.8" y="50.2" font-size="6.2" font-family="Liberation Serif,serif" font-weight="700" fill="#efede2" textLength="20.2" lengthAdjust="spacingAndGlyphs" stroke="#efede2" stroke-width="0.35">&amp;CHEW</text><ellipse cx="17.2" cy="59.4" rx="3" ry="4.1" fill="#171716" stroke="#4d63c6" stroke-width="1.15"/><path d="M16.099999999999998 61h2.2" stroke="#a5a59e" stroke-width="1"/><ellipse cx="22.8" cy="59.4" rx="3" ry="4.1" fill="#171716" stroke="#d8ca3c" stroke-width="1.15"/><path d="M21.7 61h2.2" stroke="#a5a59e" stroke-width="1"/><ellipse cx="28.4" cy="59.4" rx="3" ry="4.1" fill="#171716" stroke="#8d5e3c" stroke-width="1.15"/><path d="M27.299999999999997 61h2.2" stroke="#a5a59e" stroke-width="1"/><ellipse cx="34.6" cy="59.2" rx="3.1" ry="4.4" fill="#efe8d2"/><path d="M33.6 57.8h2M34.6 57.8v2.4M33.5 61.2h2.2" stroke="#8a836c" stroke-width="0.7"/><ellipse cx="40.2" cy="59.4" rx="3" ry="4.1" fill="#171716" stroke="#6e4c32" stroke-width="1.15"/><path d="M39.1 61h2.2" stroke="#a5a59e" stroke-width="1"/><ellipse cx="46.1" cy="59.4" rx="3" ry="4.1" fill="#171716" stroke="#b47fc6" stroke-width="1.15"/><path d="M45.0 61h2.2" stroke="#a5a59e" stroke-width="1"/></svg></div>
<div class="abs sthumb" style="left:1413px"><svg width="44" height="44" viewBox="0 0 72 72"><rect width="72" height="72" fill="#f4ece0"/><path d="M18 6.4 Q36 5.2 53.8 6.4 L54.2 14 Q53.2 40 51.4 62.8 Q51.2 65.4 48.6 65.4 L24 65.4 Q21.4 65.4 21.2 62.8 Q19 40 17.5 14 Z" fill="url(#pg)"/><rect x="17.4" y="12.00" width="36.9" height="2.2" fill="#d8601f"/><path d="M19 13.10h33.6" stroke="#fff" stroke-opacity="0.3" stroke-width="0.5" stroke-dasharray="1.6 0.8"/><text x="29" y="19.0" font-size="1.9" font-family="Liberation Sans,sans-serif" font-weight="700" fill="#a3a093" textLength="14.0" lengthAdjust="spacingAndGlyphs">SMALL BATCH CO.</text><text x="23.3" y="24.2" font-size="4.4" font-family="Liberation Serif,serif" font-weight="700" fill="#dd6a2a" textLength="25.3" lengthAdjust="spacingAndGlyphs" stroke="#dd6a2a" stroke-width="0.22">CARROT CAKE</text><text x="26.3" y="27.8" font-size="3.3" font-family="Liberation Serif,serif" font-weight="700" fill="#22211d" textLength="19.4" lengthAdjust="spacingAndGlyphs" stroke="#22211d" stroke-width="0.15">Granola Bites</text><g transform="translate(35.5 34.3) scale(0.62)" fill="none" stroke="#1d1c19" stroke-width="1.37" stroke-linecap="round" stroke-linejoin="round"><path d="M-5.6 -2.6 C-6.6 -8.6 6 -9.2 6.6 -3.2 C7 0.2 3.2 1.6 0.2 1.6 C-3 1.6 -5.2 0.4 -5.6 -2.6 Z"/><path d="M-5.2 -6 C-6.6 -7.8 -4.2 -9.4 -3 -7.8M3.6 -8 C4.6 -9.8 7.2 -8.2 5.8 -6.2"/><path d="M-2.6 -4.4 L-0.6 -3.4 L-2.4 -2.2 Z M1.6 -4.6 L3.4 -4.2 M-1 -0.6 C0 0.2 1.4 0.2 2.2 -0.6"/><path d="M-5 -0.4 C-10 0.4 -12.2 4 -11 8.2 L11.6 8.2 C12.8 4 10.4 0.2 5.6 -0.4"/><path d="M-4.6 3.4 L0.2 3.4 L-0.2 8.2 L-4.2 8.2 Z M0.2 4.4 C1.8 4.4 1.8 6.6 0 6.6"/><path d="M-8.6 4.6 L-8.6 7 M-7.2 4.2 L-5.2 4.6 M2.4 5.2 L6.4 4.6 M3.4 5.4 L3.4 7.6"/></g><text x="24.4" y="47.7" font-size="7.2" font-family="Liberation Serif,serif" font-weight="700" fill="#161513" textLength="22.4" lengthAdjust="spacingAndGlyphs" stroke="#161513" stroke-width="0.4">BREW</text><text x="23.8" y="52.6" font-size="6.4" font-family="Liberation Serif,serif" font-weight="700" fill="#161513" textLength="23.2" lengthAdjust="spacingAndGlyphs" stroke="#161513" stroke-width="0.4">&amp;CHEW</text><path d="M24 55.6h24M29 58.2h14" stroke="#8d8a7e" stroke-opacity="0.7" stroke-width="0.45"/></svg></div>
<div class="abs sthumb" style="left:1461px"><svg width="44" height="44" viewBox="0 0 72 72"><rect width="72" height="72" fill="#f4ece0"/><path d="M18 6.4 Q36 5.2 53.8 6.4 L54.2 14 Q53.2 40 51.4 62.8 Q51.2 65.4 48.6 65.4 L24 65.4 Q21.4 65.4 21.2 62.8 Q19 40 17.5 14 Z" fill="url(#pg)"/><rect x="17.4" y="12.81" width="36.9" height="2.2" fill="#2f62c6"/><path d="M19 13.91h33.6" stroke="#fff" stroke-opacity="0.3" stroke-width="0.5" stroke-dasharray="1.6 0.8"/><text x="29" y="19.9" font-size="1.9" font-family="Liberation Sans,sans-serif" font-weight="700" fill="#a3a093" textLength="14.0" lengthAdjust="spacingAndGlyphs">SMALL BATCH CO.</text><text x="23.3" y="25.099999999999998" font-size="4.4" font-family="Liberation Serif,serif" font-weight="700" fill="#3f73d6" textLength="25.3" lengthAdjust="spacingAndGlyphs" stroke="#3f73d6" stroke-width="0.22">COOKIE &amp; CREAM</text><text x="26.3" y="28.7" font-size="3.3" font-family="Liberation Serif,serif" font-weight="700" fill="#22211d" textLength="19.4" lengthAdjust="spacingAndGlyphs" stroke="#22211d" stroke-width="0.15">Granola Bites</text><g transform="translate(35.5 35.379999999999995) scale(0.62)" fill="none" stroke="#1d1c19" stroke-width="1.37" stroke-linecap="round" stroke-linejoin="round"><path d="M-5.6 -2.6 C-6.6 -8.6 6 -9.2 6.6 -3.2 C7 0.2 3.2 1.6 0.2 1.6 C-3 1.6 -5.2 0.4 -5.6 -2.6 Z"/><path d="M-5.2 -6 C-6.6 -7.8 -4.2 -9.4 -3 -7.8M3.6 -8 C4.6 -9.8 7.2 -8.2 5.8 -6.2"/><path d="M-2.6 -4.4 L-0.6 -3.4 L-2.4 -2.2 Z M1.6 -4.6 L3.4 -4.2 M-1 -0.6 C0 0.2 1.4 0.2 2.2 -0.6"/><path d="M-5 -0.4 C-10 0.4 -12.2 4 -11 8.2 L11.6 8.2 C12.8 4 10.4 0.2 5.6 -0.4"/><path d="M-4.6 3.4 L0.2 3.4 L-0.2 8.2 L-4.2 8.2 Z M0.2 4.4 C1.8 4.4 1.8 6.6 0 6.6"/><path d="M-8.6 4.6 L-8.6 7 M-7.2 4.2 L-5.2 4.6 M2.4 5.2 L6.4 4.6 M3.4 5.4 L3.4 7.6"/></g><text x="24.4" y="48.690000000000005" font-size="7.2" font-family="Liberation Serif,serif" font-weight="700" fill="#161513" textLength="22.4" lengthAdjust="spacingAndGlyphs" stroke="#161513" stroke-width="0.4">BREW</text><text x="23.8" y="53.68" font-size="6.4" font-family="Liberation Serif,serif" font-weight="700" fill="#161513" textLength="23.2" lengthAdjust="spacingAndGlyphs" stroke="#161513" stroke-width="0.4">&amp;CHEW</text><path d="M24 56.5h24M29 59.1h14" stroke="#8d8a7e" stroke-opacity="0.7" stroke-width="0.45"/></svg></div>
</body></html>
